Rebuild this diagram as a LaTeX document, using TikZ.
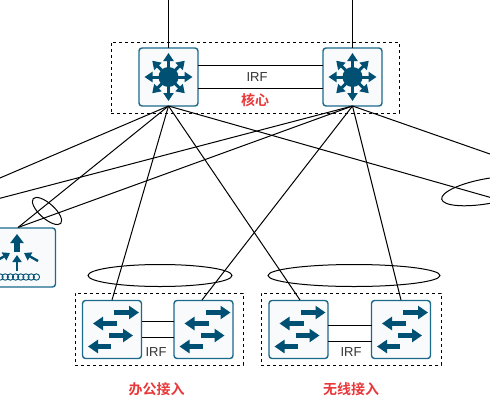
\documentclass[tikz,border=0pt]{standalone}
\usepackage{fontspec}
\setmainfont{Liberation Sans}
\newfontfamily\cjkbold[BoldFont={Noto Sans CJK SC Bold}]{Noto Sans CJK SC}
\usetikzlibrary{arrows.meta,calc}
\definecolor{teal}{HTML}{005073}
\definecolor{edge}{HTML}{1B6A8C}
\definecolor{paper}{HTML}{F8FAFB}
\definecolor{redlab}{HTML}{E8383A}
\tikzset{
  devbox/.style={draw=edge,line width=1.4pt,fill=paper,rounded corners=3pt,minimum width=59pt,minimum height=58pt,inner sep=0pt,outer sep=0pt},
  group/.style={draw=black,line width=0.9pt,dash pattern=on 3.2pt off 2.8pt},
  link/.style={draw=black,line width=1pt},
  ring/.style={draw=black,line width=1pt},
  irf/.style={font=\fontsize{13}{15}\selectfont,text=black!80,inner sep=0pt},
  lab/.style={font=\cjkbold\bfseries\fontsize{14}{16}\selectfont,text=redlab,inner sep=0pt},
  harrow/.style={draw=teal,line width=4.2pt,-{Triangle[length=10pt,width=13pt]}},
  carrow/.style={draw=teal,line width=3pt,-{Triangle[length=8pt,width=10pt]}},
  big/.style={draw=teal,line width=6pt,-{Triangle[length=9pt,width=13pt]}},
  small/.style={draw=teal,line width=2.4pt,-{Triangle[length=7pt,width=9pt]}}
}
\newcommand{\coreicon}[1]{%
  \fill[teal] (#1.center) circle (10pt);
  \foreach \a/\r in {0/24,90/24,180/24,270/24,45/23,135/23,225/23,315/23}
    \draw[carrow] (#1.center) -- ($(#1.center)+(\a:\r pt)$);
}
\newcommand{\swicon}[1]{%
  \draw[harrow] ($(#1.center)+(2,-17)$) -- ($(#1.center)+(27,-17)$);
  \draw[harrow] ($(#1.center)+(5,-6)$) -- ($(#1.center)+(-19,-6)$);
  \draw[harrow] ($(#1.center)+(-3,6)$) -- ($(#1.center)+(21,6)$);
  \draw[harrow] ($(#1.center)+(-1,17)$) -- ($(#1.center)+(-24,17)$);
}
\begin{document}
\begin{tikzpicture}[x=1pt,y=-1pt]
\useasboundingbox (0,0) rectangle (490,408);
\clip (0,0) rectangle (490,408);
\fill[white] (0,0) rectangle (490,408);
% group frames
\node[group,minimum width=288pt,minimum height=71pt,inner sep=0pt] (gcore) at (255,77.5) {};
\node[group,minimum width=168pt,minimum height=72pt,inner sep=0pt] (goffice) at (159,329) {};
\node[group,minimum width=180pt,minimum height=72pt,inner sep=0pt] (gwifi) at (351,329) {};
% free ends
\coordinate (t1) at (168.5,-5);
\coordinate (t2) at (352.5,-5);
\coordinate (l1) at (-20,186.5);
\coordinate (l2) at (-20,203.5);
\coordinate (r1) at (510,203);
\coordinate (r2) at (510,161);
% devices
\node[devbox] (c1) at (168.5,77) {};
\node[devbox] (c2) at (352.5,77) {};
\node[devbox] (a1) at (112,329.5) {};
\node[devbox] (a2) at (203.5,329.5) {};
\node[devbox] (a3) at (298.5,329.5) {};
\node[devbox] (a4) at (401,329.5) {};
\node[devbox,minimum width=70pt,minimum height=59pt] (gw) at (20.5,257.5) {};
\coordinate (gwtop) at (18,227.5);
\coordinate (a1t) at (112,300);
\coordinate (a2t) at (202,300);
\coordinate (a3t) at (300,300);
\coordinate (a4t) at (401,300);
% connectors
\draw[link] (t1) -- (c1.north);
\draw[link] (t2) -- (c2.north);
\draw[link] (c1.east |- 0,65.5) -- (c2.west |- 0,65.5);
\draw[link] (c1.east |- 0,88.5) -- (c2.west |- 0,88.5);
\draw[link] (a1.east |- 0,321.5) -- (a2.west |- 0,321.5);
\draw[link] (a1.east |- 0,337.5) -- (a2.west |- 0,337.5);
\draw[link] (a3.east |- 0,325.5) -- (a4.west |- 0,325.5);
\draw[link] (a3.east |- 0,341.5) -- (a4.west |- 0,341.5);
\draw[link] (c1.south) -- (a1t);
\draw[link] (c1.south) -- (a3t);
\draw[link] (c2.south) -- (a2t);
\draw[link] (c2.south) -- (a4t);
\draw[link] (c1.south) -- (gwtop);
\draw[link] (c2.south) -- (gwtop);
\draw[link] (c1.south) -- (l1);
\draw[link] (c2.south) -- (l2);
\draw[link] (c1.south) -- (r1);
\draw[link] (c2.south) -- (r2);
% rings
\draw[ring] (160,275.5) ellipse [x radius=72,y radius=11];
\draw[ring] (354,275.5) ellipse [x radius=86,y radius=11];
\draw[ring,rotate around={-42:(47,211)}] (47,211) ellipse [x radius=18.5,y radius=7.5];
\draw[ring,rotate around={10:(488,191)}] (488,191) ellipse [x radius=47,y radius=12.5];
% icons
\coreicon{c1}
\coreicon{c2}
\swicon{a1}
\swicon{a2}
\swicon{a3}
\swicon{a4}
% gateway icon
\draw[big] (17,252) -- (17,234);
\draw[small] (17,271) -- (17,255);
\draw[small] (38,261) -- (24,253);
\draw[small] (-4,261) -- (10,253);
\foreach \x in {0,5.2,...,39} \draw[teal,line width=0.9pt] (\x,277) circle (3.2pt);
% labels
\node[irf] (irf1) at (257,77) {IRF};
\node[irf] (irf2) at (156,352) {IRF};
\node[irf] (irf3) at (351,352) {IRF};
\node[lab] (lcore) at (255,100.5) {核心};
\node[lab] (loffice) at (156.5,389) {办公接入};
\node[lab] (lwifi) at (351,389) {无线接入};
\end{tikzpicture}
\end{document}
